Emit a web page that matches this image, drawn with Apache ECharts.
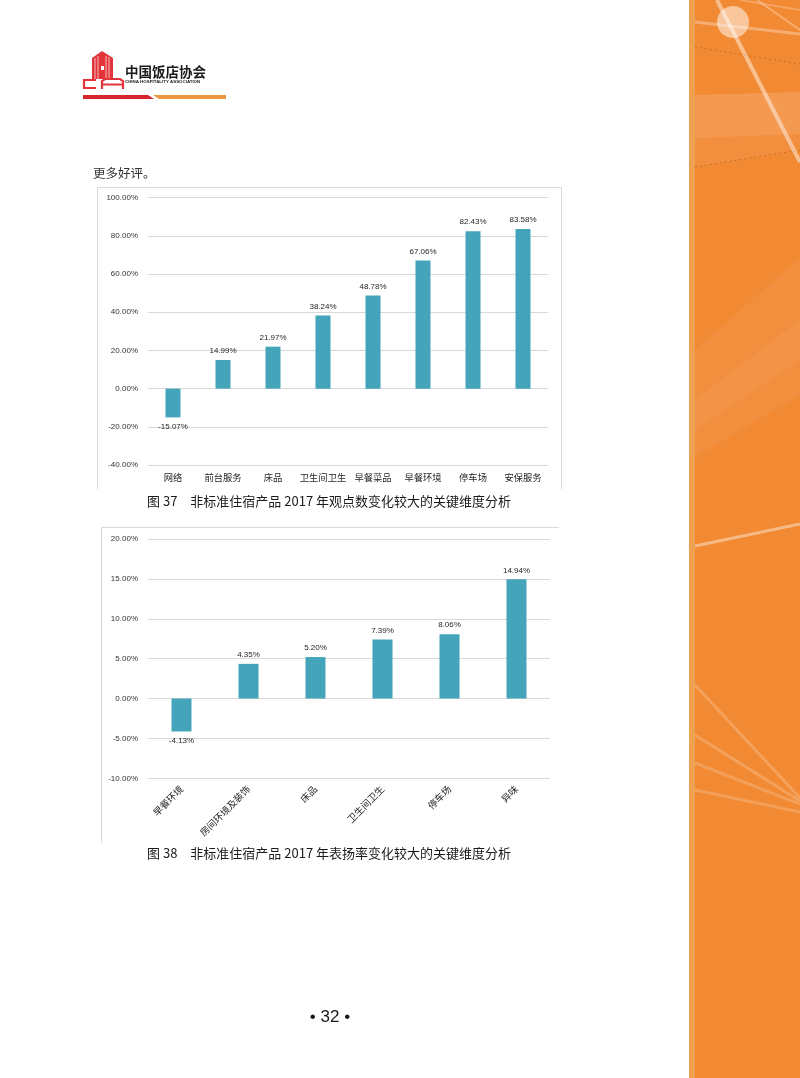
<!DOCTYPE html>
<html><head><meta charset="utf-8">
<script src="https://cdn.jsdelivr.net/npm/echarts@6/dist/echarts.min.js"></script>
<style>html,body{margin:0;padding:0;background:#fff}#c{width:800px;height:1078px}</style>
</head><body><div id="c"></div>
<script>
// ---- data ----
var cats1 = ['网络','前台服务','床品','卫生间卫生','早餐菜品','早餐环境','停车场','安保服务'];
var vals1 = [-15.07, 14.99, 21.97, 38.24, 48.78, 67.06, 82.43, 83.58];
var cats2 = ['早餐环境','房间环境及装饰','床品','卫生间卫生','停车场','异味'];
var vals2 = [-4.13, 4.35, 5.20, 7.39, 8.06, 14.94];
var yTicks1 = {min: -40, max: 100, interval: 20};
var yTicks2 = {min: -10, max: 20, interval: 5};
var caption1 = '图 37　非标准住宿产品 2017 年观点数变化较大的关键维度分析';
var caption2 = '图 38　非标准住宿产品 2017 年表扬率变化较大的关键维度分析';
var introText = '更多好评。';
var pageNo = '• 32 •';

var BAR = '#44a4b9';
var NUMFONT = 'Liberation Sans';
var CJK = 'Noto Sans CJK SC';
function pct(v){ return Number(v).toFixed(2) + '%'; }
function items(vals){
  return vals.map(function(v){
    return {value: v, label: {position: v < 0 ? 'bottom' : 'top'}};
  });
}
function yAx(idx, t){
  return {
    type: 'value', gridIndex: idx, min: t.min, max: t.max, interval: t.interval,
    axisLine: {show: false}, axisTick: {show: false},
    splitLine: {lineStyle: {color: '#d9d9d9', width: 1}},
    axisLabel: {formatter: pct, color: '#333333', fontSize: 8, fontFamily: NUMFONT, margin: 10}
  };
}
var W = 'rgba(255,255,255,';
var chart = echarts.init(document.getElementById('c'), null, {renderer: 'canvas'});
chart.setOption({
  animation: false,
  backgroundColor: '#ffffff',
  grid: [
    {left: 148, top: 197.7, width: 400, height: 267.3},
    {left: 148, top: 539, width: 402, height: 239.3}
  ],
  xAxis: [
    {type: 'category', gridIndex: 0, data: cats1,
     axisLine: {show: false, onZero: false}, axisTick: {show: false},
     axisLabel: {color: '#262626', fontSize: 9.3, fontFamily: CJK, margin: 8, interval: 0}},
    {type: 'category', gridIndex: 1, data: cats2,
     axisLine: {show: false, onZero: false}, axisTick: {show: false},
     axisLabel: {color: '#262626', fontSize: 9.5, fontFamily: CJK, margin: 9, rotate: 45, interval: 0}}
  ],
  yAxis: [yAx(0, yTicks1), yAx(1, yTicks2)],
  series: [
    {type: 'bar', xAxisIndex: 0, yAxisIndex: 0, data: items(vals1), barWidth: 15,
     itemStyle: {color: BAR},
     label: {show: true, formatter: function(p){return pct(p.value);}, distance: 5,
             color: '#262626', fontSize: 8, fontFamily: NUMFONT}},
    {type: 'bar', xAxisIndex: 1, yAxisIndex: 1, data: items(vals2), barWidth: 20,
     itemStyle: {color: BAR},
     label: {show: true, formatter: function(p){return pct(p.value);}, distance: 5,
             color: '#262626', fontSize: 8, fontFamily: NUMFONT}}
  ],
  graphic: [
    // right orange strip
    {type: 'rect', shape: {x: 689, y: 0, width: 111, height: 1078}, style: {fill: '#eea150'}, silent: true},
    {type: 'rect', shape: {x: 695, y: 0, width: 105, height: 1078}, style: {fill: '#f28a34'}, silent: true},
    {type: 'polygon', shape: {points: [[695,95],[800,92],[800,134],[695,138]]}, style: {fill: W+'0.14)'}, silent: true},
    {type: 'polygon', shape: {points: [[695,138],[800,134],[800,150],[695,167]]}, style: {fill: W+'0.05)'}, silent: true},
    {type: 'polygon', shape: {points: [[695,350],[800,258],[800,395],[695,457]]}, style: {fill: W+'0.05)'}, silent: true},
    {type: 'polygon', shape: {points: [[695,400],[800,320],[800,360],[695,430]]}, style: {fill: W+'0.05)'}, silent: true},
    {type: 'line', shape: {x1: 695, y1: 47, x2: 800, y2: 64}, style: {stroke: 'rgba(140,70,20,0.45)', lineWidth: 1, lineDash: [2,3]}, silent: true},
    {type: 'line', shape: {x1: 695, y1: 167, x2: 800, y2: 150}, style: {stroke: 'rgba(140,70,20,0.45)', lineWidth: 1, lineDash: [2,3]}, silent: true},
    {type: 'line', shape: {x1: 717, y1: 0, x2: 800, y2: 162}, style: {stroke: W+'0.45)', lineWidth: 4}, silent: true},
    {type: 'line', shape: {x1: 757, y1: 0, x2: 800, y2: 30}, style: {stroke: W+'0.3)', lineWidth: 2}, silent: true},
    {type: 'line', shape: {x1: 695, y1: 22, x2: 800, y2: 34}, style: {stroke: W+'0.3)', lineWidth: 3}, silent: true},
    {type: 'line', shape: {x1: 740, y1: 0, x2: 800, y2: 10}, style: {stroke: W+'0.22)', lineWidth: 2}, silent: true},
    {type: 'circle', shape: {cx: 733, cy: 22, r: 16}, style: {fill: W+'0.5)'}, silent: true},
    {type: 'line', shape: {x1: 695, y1: 546, x2: 800, y2: 524}, style: {stroke: W+'0.4)', lineWidth: 3}, silent: true},
    {type: 'line', shape: {x1: 695, y1: 685, x2: 800, y2: 798}, style: {stroke: W+'0.2)', lineWidth: 3}, silent: true},
    {type: 'line', shape: {x1: 695, y1: 735, x2: 800, y2: 801}, style: {stroke: W+'0.2)', lineWidth: 3}, silent: true},
    {type: 'line', shape: {x1: 695, y1: 763, x2: 800, y2: 804}, style: {stroke: W+'0.18)', lineWidth: 3}, silent: true},
    {type: 'line', shape: {x1: 695, y1: 790, x2: 800, y2: 812}, style: {stroke: W+'0.18)', lineWidth: 3}, silent: true},
    // logo
    {type: 'polygon', shape: {points: [[92,58],[102,51],[113,58],[113,79],[92,79]]}, style: {fill: '#e2343b'}, silent: true},
    {type: 'line', shape: {x1: 95, y1: 58, x2: 95, y2: 79}, style: {stroke: '#f7b8ba', lineWidth: 1}, silent: true},
    {type: 'line', shape: {x1: 98, y1: 56, x2: 98, y2: 79}, style: {stroke: '#f7b8ba', lineWidth: 1}, silent: true},
    {type: 'line', shape: {x1: 106, y1: 56, x2: 106, y2: 79}, style: {stroke: '#f7b8ba', lineWidth: 1}, silent: true},
    {type: 'line', shape: {x1: 109, y1: 57, x2: 109, y2: 79}, style: {stroke: '#f7b8ba', lineWidth: 1}, silent: true},
    {type: 'rect', shape: {x: 101, y: 66, width: 3, height: 4}, style: {fill: '#ffffff'}, silent: true},
    {type: 'polyline', shape: {points: [[96,80],[84,80],[84,88],[96,88]]}, style: {stroke: '#e2343b', lineWidth: 2.2, fill: null}, silent: true},
    {type: 'polyline', shape: {points: [[102,89],[102,81],[105,79],[120,79],[123,81],[123,89]]}, style: {stroke: '#e2343b', lineWidth: 2.2, fill: null}, silent: true},
    {type: 'line', shape: {x1: 102, y1: 84.5, x2: 123, y2: 84.5}, style: {stroke: '#e2343b', lineWidth: 2}, silent: true},
    {type: 'text', style: {text: '中国饭店协会', x: 125, y: 72, fill: '#1a1a1a', font: 'bold 13.5px "Noto Sans CJK SC"', textVerticalAlign: 'middle'}, silent: true},
    {type: 'text', style: {text: 'CHINA HOSPITALITY ASSOCIATION', x: 125, y: 81.5, fill: '#1a1a1a', font: 'bold 4.4px "Liberation Sans"', textVerticalAlign: 'middle'}, silent: true},
    {type: 'polygon', shape: {points: [[83,95],[148,95],[154,99],[83,99]]}, style: {fill: '#d6252c'}, silent: true},
    {type: 'polygon', shape: {points: [[153,95],[226,95],[226,99],[159,99]]}, style: {fill: '#eb9640'}, silent: true},
    // body text
    {type: 'text', style: {text: introText, x: 93, y: 173, fill: '#333333', font: '12.5px "Noto Sans CJK SC"', textVerticalAlign: 'middle'}, silent: true},
    // chart borders
    {type: 'polyline', shape: {points: [[97.5,489],[97.5,187.5],[561.5,187.5],[561.5,489]]}, style: {stroke: '#d9d9d9', lineWidth: 1, fill: null}, silent: true},
    {type: 'polyline', shape: {points: [[101.5,843],[101.5,527.5],[559,527.5]]}, style: {stroke: '#d9d9d9', lineWidth: 1, fill: null}, silent: true},
    // captions
    {type: 'text', style: {text: caption1, x: 147, y: 501, fill: '#1a1a1a', font: '13px "Noto Sans CJK SC"', textVerticalAlign: 'middle'}, silent: true},
    {type: 'text', style: {text: caption2, x: 147, y: 853, fill: '#1a1a1a', font: '13px "Noto Sans CJK SC"', textVerticalAlign: 'middle'}, silent: true},
    {type: 'text', style: {text: pageNo, x: 330, y: 1017, fill: '#1a1a1a', font: '17px "Liberation Sans"', textAlign: 'center', textVerticalAlign: 'middle'}, silent: true}
  ]
});
</script></body></html>
